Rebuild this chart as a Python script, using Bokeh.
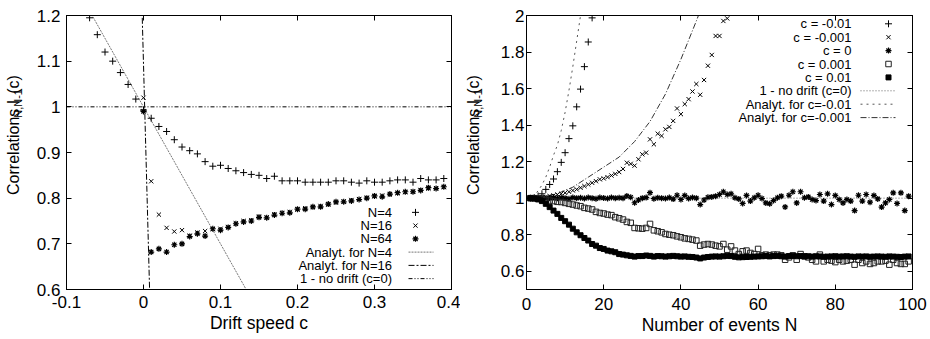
from math import pi
from bokeh.plotting import figure
from bokeh.layouts import row
from bokeh.models import FixedTicker, LinearAxis, Range1d
from bokeh.core.properties import value
from bokeh.embed import file_html
from bokeh.resources import INLINE

FONT = "Liberation Sans"

# ---------------- left panel data ----------------
c_n4 = [round(-0.07 + 0.01 * i, 2) for i in range(47)]
n4_vals = [1.195, 1.158, 1.120, 1.100, 1.075, 1.049, 1.017, 0.993, 0.975, 0.957,
           0.946, 0.928, 0.912, 0.904, 0.897, 0.880, 0.870, 0.872, 0.865, 0.860,
           0.856, 0.852, 0.850, 0.843, 0.848, 0.838, 0.838, 0.838, 0.835, 0.835,
           0.835, 0.835, 0.838, 0.838, 0.835, 0.833, 0.838, 0.835, 0.835, 0.838,
           0.840, 0.840, 0.835, 0.843, 0.840, 0.840, 0.843]
c_n16 = [round(0.01 * i, 2) for i in range(40)]
n16_vals = [1.020, 0.837, 0.764, 0.735, 0.727, 0.730, 0.718, 0.725, 0.728, 0.732,
            0.733, 0.737, 0.745, 0.750, 0.752, 0.760, 0.758, 0.765, 0.768, 0.770,
            0.775, 0.778, 0.780, 0.783, 0.786, 0.790, 0.793, 0.796, 0.798, 0.801,
            0.804, 0.806, 0.808, 0.811, 0.813, 0.815, 0.818, 0.821, 0.822, 0.824]
c_n64 = [round(0.01 * i, 2) for i in range(40)]
n64_vals = [0.990, 0.682, 0.689, 0.682, 0.698, 0.700, 0.716, 0.722, 0.717, 0.733,
            0.730, 0.736, 0.744, 0.748, 0.750, 0.758, 0.757, 0.763, 0.767, 0.768,
            0.776, 0.776, 0.781, 0.781, 0.787, 0.792, 0.792, 0.794, 0.797, 0.800,
            0.805, 0.803, 0.809, 0.812, 0.814, 0.814, 0.817, 0.823, 0.821, 0.825]
an4_c = [-0.1, 0.2]
an4_v = [1.3, 0.4]
an16_c = [-0.0033, 0.0095]
an16_v = [1.3, 0.5]
nodrift_l_c = [-0.1, 0.4]
nodrift_l_v = [1.0, 1.0]
left_xticks = [-0.1, 0.0, 0.1, 0.2, 0.3, 0.4]
left_xlabels = ["-0.1", "0", "0.1", "0.2", "0.3", "0.4"]
left_yticks = [0.6, 0.7, 0.8, 0.9, 1.0, 1.1, 1.2]
left_ylabels = ["0.6", "0.7", "0.8", "0.9", "1", "1.1", "1.2"]

# ---------------- right panel data ----------------
n_m01 = list(range(1, 18))
v_m01 = [1.0, 1.003, 1.012, 1.024, 1.048, 1.075, 1.105, 1.145, 1.196, 1.249,
         1.326, 1.396, 1.5, 1.597, 1.72, 1.855, 1.987]
n_m001 = list(range(1, 53))
v_m001 = [1.0, 1.001, 1.003, 1.005, 1.008, 1.011, 1.015, 1.02, 1.024, 1.029,
          1.035, 1.042, 1.048, 1.057, 1.066, 1.075, 1.084, 1.093, 1.103, 1.108,
          1.115, 1.124, 1.133, 1.143, 1.16, 1.194, 1.188, 1.178, 1.213, 1.24,
          1.249, 1.322, 1.295, 1.353, 1.341, 1.377, 1.39, 1.423, 1.491, 1.46,
          1.515, 1.542, 1.584, 1.625, 1.566, 1.647, 1.725, 1.784, 1.888, 1.888,
          1.97, 1.984]
n_c0 = list(range(1, 100))
v_c0 = [1.0, 1.0, 1.0, 1.002, 0.998, 1.0, 1.003, 0.999, 1.002, 1.0,
        0.997, 1.003, 1.0, 1.002, 0.998, 1.004, 1.0, 0.997, 1.003, 1.001,
        0.998, 1.004, 1.0, 1.002, 1.0, 1.012, 1.005, 0.975, 0.99, 1.0,
        1.003, 1.03, 0.997, 1.002, 1.0, 0.998, 1.003, 0.995, 1.016, 0.993,
        1.015, 0.998, 1.004, 1.0, 0.965, 0.99, 1.005, 1.007, 1.011, 1.020,
        1.035, 1.020, 1.024, 1.002, 0.996, 0.971, 1.015, 0.984, 1.002, 1.016,
        0.998, 0.974, 0.969, 0.987, 1.002, 1.011, 0.952, 1.016, 1.035, 0.974,
        1.035, 1.002, 1.007, 0.993, 0.987, 1.020, 0.984, 1.024, 0.965, 1.015,
        0.993, 0.974, 0.993, 0.984, 0.932, 1.016, 0.984, 1.020, 0.978, 1.015,
        0.996, 0.951, 0.974, 0.993, 1.029, 0.971, 1.029, 0.932, 1.011]
n_p001 = list(range(1, 100))
v_p001 = [1.0, 1.0, 0.998, 0.995, 0.99, 0.987, 0.984, 0.98, 0.979, 0.974,
          0.969, 0.965, 0.96, 0.956, 0.947, 0.943, 0.938, 0.925, 0.919, 0.916,
          0.91, 0.907, 0.896, 0.89, 0.883, 0.87, 0.865, 0.837, 0.835, 0.833,
          0.837, 0.859, 0.824, 0.819, 0.813, 0.804, 0.80, 0.797, 0.791, 0.786,
          0.78, 0.777, 0.773, 0.768, 0.740, 0.746, 0.749, 0.746, 0.740, 0.736,
          0.749, 0.718, 0.736, 0.713, 0.694, 0.709, 0.713, 0.70, 0.694, 0.722,
          0.687, 0.691, 0.687, 0.691, 0.691, 0.687, 0.663, 0.676, 0.687, 0.663,
          0.694, 0.682, 0.676, 0.663, 0.654, 0.691, 0.654, 0.663, 0.658, 0.65,
          0.663, 0.654, 0.658, 0.663, 0.636, 0.663, 0.645, 0.654, 0.64, 0.645,
          0.654, 0.654, 0.658, 0.636, 0.663, 0.645, 0.64, 0.64, 0.654]
n_p01 = list(range(1, 100))
v_p01 = [1.0, 0.998, 0.993, 0.984, 0.969, 0.951, 0.932, 0.914, 0.892, 0.874,
         0.855, 0.833, 0.813, 0.797, 0.782, 0.768, 0.749, 0.74, 0.727, 0.722,
         0.713, 0.709, 0.704, 0.694, 0.691, 0.687, 0.684, 0.68, 0.683, 0.683,
         0.686, 0.684, 0.68, 0.683, 0.682, 0.68, 0.682, 0.684, 0.682, 0.68,
         0.681, 0.679, 0.678, 0.675, 0.67, 0.675, 0.678, 0.68, 0.681, 0.68,
         0.682, 0.684, 0.683, 0.679, 0.676, 0.677, 0.678, 0.679, 0.68, 0.681,
         0.682, 0.683, 0.681, 0.683, 0.684, 0.682, 0.68, 0.683, 0.684, 0.682,
         0.683, 0.681, 0.682, 0.68, 0.682, 0.681, 0.679, 0.68, 0.681, 0.682,
         0.68, 0.681, 0.682, 0.68, 0.679, 0.681, 0.68, 0.681, 0.679, 0.68,
         0.681, 0.68, 0.679, 0.681, 0.68, 0.679, 0.678, 0.68, 0.681]
an_m01_n = [0, 1, 2, 3, 4, 5, 6, 7, 8, 9, 10, 11, 12, 13, 14, 15]
an_m01_v = [1.0, 1.004, 1.017, 1.04, 1.072, 1.115, 1.17, 1.235, 1.29, 1.37,
            1.47, 1.59, 1.72, 1.86, 2.0, 2.15]
an_m001_n = [0, 4, 8, 12, 16, 20, 24, 28, 32, 36, 40, 44, 46]
an_m001_v = [1.0, 1.006, 1.025, 1.06, 1.115, 1.17, 1.225, 1.31, 1.42, 1.57,
             1.76, 1.97, 2.08]
nodrift_r_n = [0, 100]
nodrift_r_v = [1.0, 1.0]
right_xticks = [0, 20, 40, 60, 80, 100]
right_xlabels = ["0", "20", "40", "60", "80", "100"]
right_yticks = [0.6, 0.8, 1.0, 1.2, 1.4, 1.6, 1.8, 2.0]
right_ylabels = ["0.6", "0.8", "1", "1.2", "1.4", "1.6", "1.8", "2"]

H = 339


def make_fig(width, height, xr, yr, bl, br, bt, bb):
    p = figure(width=width, height=height, x_range=xr, y_range=yr,
               output_backend="svg", toolbar_location=None,
               min_border_left=bl, min_border_right=br,
               min_border_top=bt, min_border_bottom=bb)
    p.outline_line_color = "black"
    p.outline_line_width = 1
    p.grid.visible = False
    p.background_fill_color = "white"
    p.border_fill_color = "white"
    return p


def style_axes(p, xt, xl, yt, yl, xlabel, xstand, ystand, lstand):
    p.xaxis.ticker = FixedTicker(ticks=xt)
    p.yaxis.ticker = FixedTicker(ticks=yt)
    p.xaxis.major_label_overrides = dict(zip(xt, xl))
    p.yaxis.major_label_overrides = dict(zip(yt, yl))
    for ax in (p.xaxis[0], p.yaxis[0]):
        ax.major_tick_in = 5
        ax.major_tick_out = 0
        ax.minor_tick_line_color = None
        ax.axis_line_color = "black"
        ax.major_tick_line_color = "black"
        ax.major_label_text_font = FONT
        ax.major_label_text_font_size = "17px"
        ax.major_label_text_color = "black"
    p.xaxis.major_label_standoff = xstand
    p.yaxis.major_label_standoff = ystand
    p.xaxis.axis_label = xlabel
    p.xaxis.axis_label_text_font = FONT
    p.xaxis.axis_label_text_font_size = "17.5px"
    p.xaxis.axis_label_text_font_style = "normal"
    p.xaxis.axis_label_text_color = "black"
    p.xaxis.axis_label_standoff = lstand
    # mirror ticks (no labels drawn)
    top = LinearAxis(ticker=FixedTicker(ticks=xt), major_tick_in=5, major_tick_out=0,
                     minor_tick_line_color=None, major_label_text_font_size="1px",
                     major_label_text_color=None,
                     major_label_standoff=0, axis_line_color="black")
    right = LinearAxis(ticker=FixedTicker(ticks=yt), major_tick_in=5, major_tick_out=0,
                       minor_tick_line_color=None, major_label_text_font_size="1px",
                       major_label_text_color=None,
                       major_label_standoff=0, axis_line_color="black")
    p.add_layout(top, "above")
    p.add_layout(right, "right")


def label_strip(width, xc, y_start):
    """A narrow figure holding the rotated y-axis title with its subscript."""
    s = figure(width=width, height=H, x_range=Range1d(0, width), y_range=Range1d(0, H),
               output_backend="svg", toolbar_location=None,
               x_axis_type=None, y_axis_type=None, min_border=0)
    s.outline_line_color = None
    s.grid.visible = False
    s.background_fill_color = "white"
    s.border_fill_color = "white"
    main_w = 95.0
    sub_w = 28.7
    y0 = H - y_start
    common = dict(angle=pi / 2, text_align="left", text_baseline="middle",
                  text_font=value(FONT), text_color="black")
    s.text(x=[xc], y=[y0], text=["Correlations I"], text_font_size="16px", **common)
    s.text(x=[xc + 4.5], y=[y0 + main_w + 0.5], text=["N,N-1"], text_font_size="11px", **common)
    s.text(x=[xc], y=[y0 + main_w + sub_w + 1.5], text=["(c)"], text_font_size="16px", **common)
    return s


MARK = {
    "cross": dict(marker="cross", size=7, line_color="black", line_width=1),
    "x": dict(marker="x", size=6, line_color="black", line_width=1),
    "asterisk": dict(marker="asterisk", size=6, line_color="black", line_width=1.2),
    "osq": dict(marker="square", size=5.5, line_color="#222222", fill_color=None, line_width=1),
    "fsq": dict(marker="square", size=5, line_color="black", fill_color="black", line_width=1),
}


def add_legend(p, fw, fh, entries, text_x, mark_x, lx0, lx1, y_top0, dy):
    p.extra_x_ranges["lgx"] = Range1d(0, fw)
    p.extra_y_ranges["lgy"] = Range1d(0, fh)
    for i, (lab, kind, st) in enumerate(entries):
        y = fh - (y_top0 + dy * i)
        p.text(x=[text_x], y=[y], text=[lab], x_range_name="lgx", y_range_name="lgy",
               text_align="right", text_baseline="middle", text_font=value(FONT),
               text_font_size="13px", text_color="black")
        if kind == "m":
            p.scatter(x=[mark_x], y=[y], x_range_name="lgx", y_range_name="lgy", **MARK[st])
        else:
            p.line(x=[lx0, lx1], y=[y, y], x_range_name="lgx", y_range_name="lgy", **st)


# ---------------- left figure ----------------
L_STYLE_AN4 = dict(line_color="#777777", line_width=1, line_dash="2 1")
L_STYLE_AN16 = dict(line_color="black", line_width=1, line_dash="6 2 2 2")
L_STYLE_ND = dict(line_color="black", line_width=1, line_dash="4 2 1 2 1 2")

s1 = label_strip(28, 13.3, 222)
p1 = make_fig(432, H, Range1d(-0.1, 0.4), Range1d(0.6, 1.2), 38, 9, 15, 48)
style_axes(p1, left_xticks, left_xlabels, left_yticks, left_ylabels, "Drift speed c", 6, 6, 2)
p1.line(nodrift_l_c, nodrift_l_v, **L_STYLE_ND)
p1.line(an4_c, an4_v, **L_STYLE_AN4)
p1.line(an16_c, an16_v, **L_STYLE_AN16)
p1.scatter(c_n4, n4_vals, **MARK["cross"])
p1.scatter(c_n16, n16_vals, **MARK["x"])
p1.scatter(c_n64, n64_vals, **MARK["asterisk"])
add_legend(p1, 385, 276, [
    ("N=4", "m", "cross"),
    ("N=16", "m", "x"),
    ("N=64", "m", "asterisk"),
    ("Analyt. for N=4", "l", L_STYLE_AN4),
    ("Analyt. for N=16", "l", L_STYLE_AN16),
    ("1 - no drift (c=0)", "l", L_STYLE_ND),
], 325.5, 349, 342, 367, 198.3, 13.35)

# ---------------- right figure ----------------
R_STYLE_ND = dict(line_color="#666666", line_width=1, line_dash="1 2")
R_STYLE_A1 = dict(line_color="#555555", line_width=1, line_dash="2 4")
R_STYLE_A2 = dict(line_color="#333333", line_width=1, line_dash="6 2 1 2")

s2 = label_strip(28, 13.0, 222)
p2 = make_fig(442, H, Range1d(0, 100), Range1d(0.5, 2.0), 38, 18, 15, 50)
style_axes(p2, right_xticks, right_xlabels, right_yticks, right_ylabels, "Number of events N", 8, 2, 2)
p2.line(nodrift_r_n, nodrift_r_v, **R_STYLE_ND)
p2.line(an_m01_n, an_m01_v, **R_STYLE_A1)
p2.line(an_m001_n, an_m001_v, **R_STYLE_A2)
p2.scatter(n_m01, v_m01, **MARK["cross"])
p2.scatter(n_m001, v_m001, **MARK["x"])
p2.scatter(n_c0, v_c0, **MARK["asterisk"])
p2.scatter(n_p001, v_p001, **MARK["osq"])
p2.scatter(n_p01, v_p01, **MARK["fsq"])
add_legend(p2, 386, 274, [
    ("c = -0.01", "m", "cross"),
    ("c = -0.001", "m", "x"),
    ("c = 0", "m", "asterisk"),
    ("c = 0.001", "m", "osq"),
    ("c = 0.01", "m", "fsq"),
    ("1 - no drift (c=0)", "l", R_STYLE_ND),
    ("Analyt. for c=-0.01", "l", R_STYLE_A1),
    ("Analyt. for c=-0.001", "l", R_STYLE_A2),
], 325, 362, 334, 369, 8.3, 13.4)

layout = row(s1, p1, s2, p2)
open("out.html", "w").write(file_html(layout, INLINE))
